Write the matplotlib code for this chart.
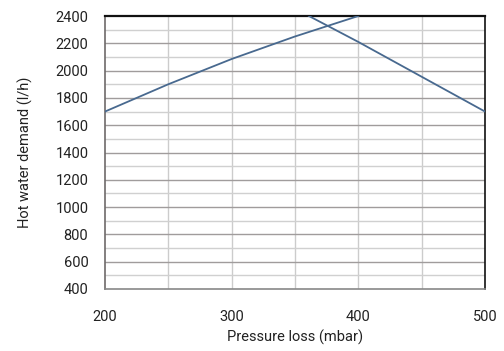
import numpy as np
import matplotlib
matplotlib.use("Agg")
import matplotlib.pyplot as plt

# rising curve
rise_x = [200, 250, 300, 350, 400]
rise_y = [1700, 1900, 2085, 2250, 2400]
# falling curve
fall_x = [361, 400, 450, 500]
fall_y = [2400, 2210, 1955, 1700]

xticks = [200, 300, 400, 500]
yticks = [400, 600, 800, 1000, 1200, 1400, 1600, 1800, 2000, 2200, 2400]

plt.rcParams['font.family'] = ['Roboto', 'DejaVu Sans']

fig = plt.figure(figsize=(5.04, 3.51), dpi=100)
ax = fig.add_axes([105/504, 1-289/351, 380/504, 273/351])

# grid
for v in range(250, 500, 50):
    ax.axvline(v, color='#cccccc', lw=1, zorder=1)
for v in range(500, 2400, 200):
    ax.axhline(v, color='#d0d0d0', lw=1, zorder=1)
for v in range(600, 2400, 200):
    ax.axhline(v, color='#a09c9c', lw=1, zorder=1)

ax.plot(rise_x, rise_y, color='#48698f', lw=1.3, zorder=3)
ax.plot(fall_x, fall_y, color='#48698f', lw=1.3, zorder=3)

ax.set_xlim(200, 500)
ax.set_ylim(400, 2400)
ax.set_xticks(xticks)
ax.set_yticks(yticks)
ax.tick_params(length=0, labelsize=10.5, colors='#222222')
ax.tick_params(axis='x', pad=15)
ax.tick_params(axis='y', pad=12)

ax.spines['top'].set_color('#111111')
ax.spines['top'].set_linewidth(1.6)
ax.spines['right'].set_color('#111111')
ax.spines['right'].set_linewidth(1.2)
ax.spines['left'].set_color('#6e6a6a')
ax.spines['left'].set_linewidth(1.2)
ax.spines['bottom'].set_color('#888888')
ax.spines['bottom'].set_linewidth(1.2)

ax.set_xlabel('Pressure loss (mbar)', fontsize=10.5, color='#222222', labelpad=4)
ax.set_ylabel('Hot water demand (l/h)', fontsize=10.5, color='#222222', labelpad=16)

fig.savefig('out.png', dpi=100)
